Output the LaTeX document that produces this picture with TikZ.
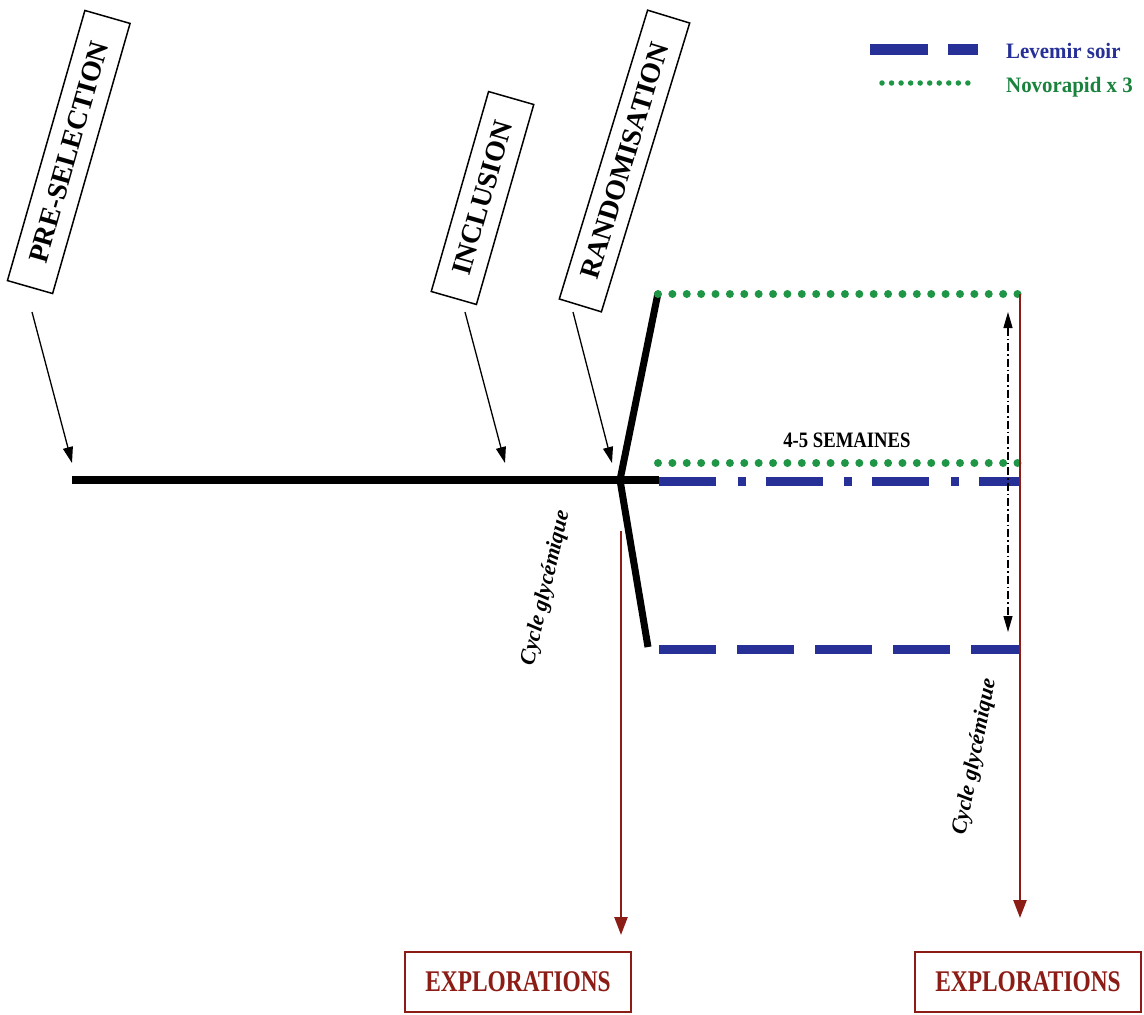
\documentclass[tikz,border=0pt]{standalone}
\usepackage{fontspec}
\setmainfont{Liberation Serif}
\newfontfamily\expfont[FakeStretch=0.78]{Liberation Serif}
\newfontfamily\semfont[FakeStretch=0.85]{Liberation Serif}
\newfontfamily\legfont[FakeStretch=0.95]{Liberation Serif}
\usetikzlibrary{arrows.meta}
\definecolor{lvblue}{RGB}{38,48,150}
\definecolor{nvgreen}{RGB}{30,150,70}
\definecolor{nvtext}{RGB}{25,130,60}
\definecolor{exred}{RGB}{140,28,22}
\begin{document}
\begin{tikzpicture}[x=1pt,y=-1pt,
  rbox/.style={draw=black, line width=1.5pt, fill=white, inner sep=0pt,
    font=\bfseries\fontsize{28}{32}\selectfont},
  ptr/.style={line width=1.3pt, -{Triangle[length=16pt,width=10pt]}},
  mainline/.style={line width=8pt},
  branch/.style={line width=7pt},
  greendots/.style={nvgreen, line width=8pt, line cap=round, dash pattern=on 0pt off 14.38pt},
  bluedashdot/.style={lvblue, line width=9pt, dash pattern=on 57pt off 21.5pt on 8pt off 20pt},
  bluedash/.style={lvblue, line width=9pt, dash pattern=on 57pt off 21pt},
  redarrow/.style={exred, line width=2.5pt, -{Triangle[length=18pt,width=13pt]}},
  exbox/.style={draw=exred, line width=2pt, minimum width=226pt, minimum height=60pt,
    inner sep=0pt, text=exred, font=\expfont\bfseries\fontsize{30}{34}\selectfont},
  cyc/.style={font=\bfseries\itshape\fontsize{22}{26}\selectfont, inner sep=0pt},
  dimarr/.style={line width=1.2pt, dash pattern=on 8pt off 3pt on 1.5pt off 3pt,
    {Triangle[length=16pt,width=9pt]}-{Triangle[length=16pt,width=9pt]}}
]
\useasboundingbox (0,0) rectangle (1144,1015);

% rotated step boxes
\node[rbox, minimum width=281pt, minimum height=47pt, rotate=74] (pre) at (68.75,152) {PRE-SELECTION};
\node[rbox, minimum width=208pt, minimum height=47pt, rotate=74] (inc) at (482.5,198) {INCLUSION};
\node[rbox, minimum width=302pt, minimum height=44pt, rotate=73] (rand) at (624.5,161) {RANDOMISATION};

% arrow end points
\coordinate (preA) at (32,312);   \coordinate (preB) at (72,463);
\coordinate (incA) at (465,312);  \coordinate (incB) at (505,463);
\coordinate (randA) at (573,312); \coordinate (randB) at (612,463);
\draw[ptr] (preA) -- (preB);
\draw[ptr] (incA) -- (incB);
\draw[ptr] (randA) -- (randB);

% main timeline and branches
\coordinate (start) at (72,480);
\coordinate (fork) at (620,480);
\coordinate (j) at (659,480);
\coordinate (up) at (658,293);
\coordinate (low) at (648,647);
\draw[mainline] (start) -- (j);
\draw[branch] (fork) -- (up);
\draw[branch] (fork) -- (low);

% treatment arms
\coordinate (g1a) at (658,294);  \coordinate (g1b) at (1018,294);
\coordinate (g2a) at (658,463);  \coordinate (g2b) at (1018,463);
\coordinate (b1a) at (659,481);  \coordinate (b1b) at (1020,481);
\coordinate (b2a) at (659,649);  \coordinate (b2b) at (1020,649);
\draw[greendots] (g1a) -- (g1b);
\draw[greendots] (g2a) -- (g2b);
\draw[bluedashdot] (b1a) -- (b1b);
\draw[bluedash] (b2a) -- (b2b);

\node[font=\semfont\bfseries\fontsize{22}{26}\selectfont, inner sep=0pt] (sem) at (847,440) {4-5 SEMAINES};

% duration arrow
\coordinate (dA) at (1008,312); \coordinate (dB) at (1008,632);
\draw[dimarr] (dA) -- (dB);

% explorations
\node[exbox] (ex1) at (518,982) {EXPLORATIONS};
\node[exbox] (ex2) at (1028,982) {EXPLORATIONS};
\coordinate (r1a) at (621,531); \coordinate (r1b) at (621,935);
\coordinate (r2a) at (1020,294); \coordinate (r2b) at (1020,918);
\draw[redarrow] (r1a) -- (r1b);
\draw[redarrow] (r2a) -- (r2b);

\node[cyc, rotate=77] (cyc1) at (546,588) {Cycle glycémique};
\node[cyc, rotate=79] (cyc2) at (975,757) {Cycle glycémique};

% legend
\coordinate (lbA) at (870,49); \coordinate (lbB) at (978,49);
\coordinate (lgA) at (882,83); \coordinate (lgB) at (968,83);
\draw[lvblue, line width=11pt, dash pattern=on 58pt off 20pt] (lbA) -- (lbB);
\draw[nvgreen, line width=5.5pt, line cap=round, dash pattern=on 0pt off 9.54pt] (lgA) -- (lgB);
\node[anchor=west, inner sep=0pt, text=lvblue, font=\legfont\bfseries\fontsize{22}{26}\selectfont] (leg1) at (1006,51) {Levemir soir};
\node[anchor=west, inner sep=0pt, text=nvtext, font=\legfont\bfseries\fontsize{22}{26}\selectfont] (leg2) at (1006,87) {Novorapid x 3};
\end{tikzpicture}
\end{document}
